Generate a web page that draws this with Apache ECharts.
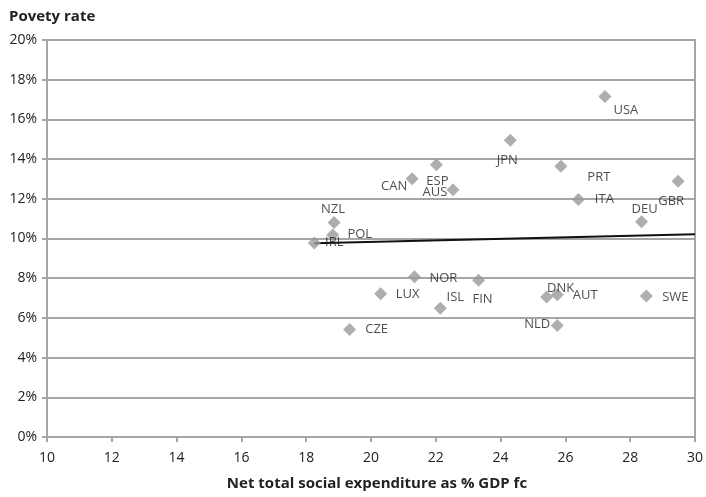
<!DOCTYPE html>
<html><head><meta charset="utf-8">
<script src="https://cdn.jsdelivr.net/npm/echarts@6/dist/echarts.min.js"></script>
<style>html,body{margin:0;padding:0;background:#fff}#c{width:706px;height:497px}</style>
</head><body><div id="c"></div>
<script>
const countries = ['USA','JPN','PRT','ITA','GBR','DEU','CAN','ESP','AUS','NZL','POL','IRL','NOR','FIN','LUX','ISL','CZE','DNK','AUT','SWE','NLD'];
const expenditure = [27.22,24.30,25.86,26.40,29.48,28.35,21.27,22.02,22.53,18.86,18.82,18.25,21.34,23.32,20.30,22.14,19.34,25.42,25.75,28.50,25.75];
const poverty = [17.15,14.95,13.64,11.96,12.88,10.85,13.01,13.72,12.46,10.80,10.18,9.77,8.07,7.90,7.22,6.48,5.42,7.05,7.16,7.10,5.62];
const labelOffsets = [[21,14],[-3,20],[38,11],[26,0],[-7,20],[3,-12],[-18,8],[1,17],[-18,3],[-1,-13],[27,-1],[20,-1],[29,1],[4,19],[27,1],[15,-11],[27,0],[14,-9],[28,0],[29,1],[-20,-1]];
const trendX = [18.25, 30];
const trendY = [9.76, 10.22];
const xTicks = [10,12,14,16,18,20,22,24,26,28,30];
const yTicks = [0,2,4,6,8,10,12,14,16,18,20];

const font = '"Open Sans", "Noto Sans", sans-serif';
const chart = echarts.init(document.getElementById('c'));
chart.setOption({
  animation: false,
  grid: {left: 47, right: 9, top: 40, bottom: 60, show: true, borderColor: '#a6a6a6', borderWidth: 2},
  title: [
    {text: 'Povety rate', left: 4, top: 4, textStyle: {fontFamily: font, fontSize: 15, fontWeight: 'bold', color: '#222'}},
    {text: 'Net total social expenditure as % GDP fc', left: 372, top: 471, textAlign: 'center', textStyle: {fontFamily: font, fontSize: 15, fontWeight: 'bold', color: '#222'}}
  ],
  xAxis: {
    type: 'value', min: xTicks[0], max: xTicks[xTicks.length-1], interval: 2,
    axisLine: {lineStyle: {color: '#a6a6a6', width: 2}},
    axisTick: {show: true, length: 5, lineStyle: {color: '#a6a6a6', width: 2}},
    splitLine: {show: false},
    axisLabel: {fontFamily: font, fontSize: 14, color: '#222', margin: 14}
  },
  yAxis: {
    type: 'value', min: yTicks[0], max: yTicks[yTicks.length-1], interval: 2,
    axisLine: {show: true, lineStyle: {color: '#a6a6a6', width: 2}},
    axisTick: {show: true, length: 5, lineStyle: {color: '#a6a6a6', width: 2}},
    splitLine: {show: true, lineStyle: {color: '#a6a6a6', width: 2}},
    axisLabel: {fontFamily: font, fontSize: 14, color: '#222', margin: 10, formatter: '{value}%'}
  },
  series: [
    {
      type: 'line', data: trendX.map((x,i)=>[x, trendY[i]]), symbol: 'none',
      lineStyle: {color: '#111', width: 2}, z: 3
    },
    {
      type: 'scatter', symbol: 'diamond', symbolSize: 13,
      itemStyle: {color: '#9a9a9a'}, z: 4,
      data: countries.map((c,i)=>({
        name: c, value: [expenditure[i], poverty[i]],
        label: {show: true, position: 'inside', offset: labelOffsets[i], formatter: c,
          fontFamily: font, fontSize: 13, color: '#222', align: 'center', verticalAlign: 'middle'}
      }))
    }
  ]
});
</script></body></html>
